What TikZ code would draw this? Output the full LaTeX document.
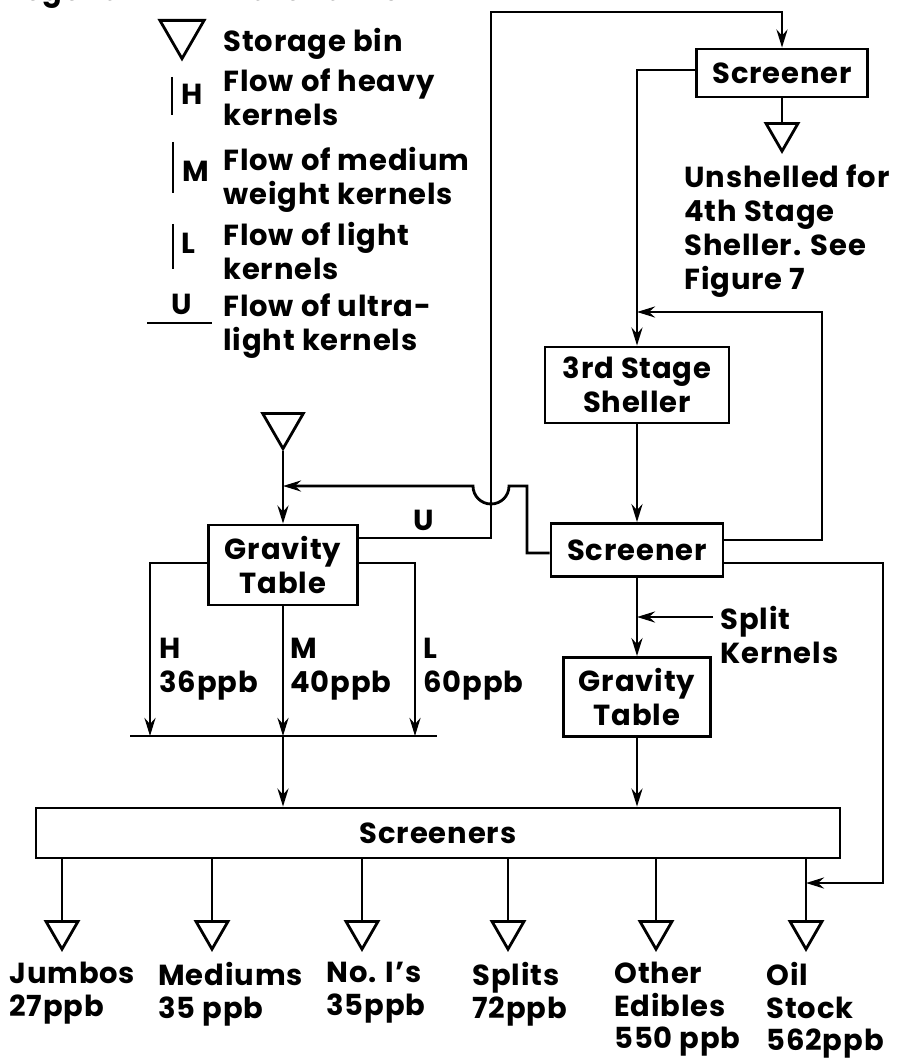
\documentclass[tikz,border=0pt]{standalone}
\usepackage{fontspec}
\setmainfont{Poppins}[LetterSpace=3]
\usetikzlibrary{arrows.meta,shapes.geometric}
\begin{document}
\begin{tikzpicture}[x=1pt, y=-1pt, line width=2.8pt,
    >={Stealth[length=18pt,width=11pt,inset=6pt]},
    font=\fontsize{29}{34}\selectfont\bfseries,
    box/.style={draw, inner sep=0pt, align=center},
    bin/.style={draw, regular polygon, regular polygon sides=3, shape border rotate=180, inner sep=0pt, minimum size=#1, anchor=north},
    txt/.style={anchor=north west, inner sep=0pt, align=left}]
    \useasboundingbox (0,0) rectangle (902,1059);

    % legend
    \node[anchor=base west, inner sep=0pt] (legend) at (8,1) {Legend};
    \node[anchor=base west, inner sep=0pt] (matflow) at (222,1) {Material flow};
    \node[bin=51] (keybin) at (182,19) {};
    \node[txt] (keybintxt) at (222,27) {Storage bin};
    \node[txt] (keyh) at (180,83) {H};
    \node[txt] (keyhtxt) at (222,67) {Flow of heavy\\kernels};
    \node[txt] (keym) at (181,160) {M};
    \node[txt] (keymtxt) at (222,146) {Flow of medium\\weight kernels};
    \node[txt] (keyl) at (180,232) {L};
    \node[txt] (keyltxt) at (222,221) {Flow of light\\kernels};
    \node[txt] (keyu) at (170,293) {U};
    \node[txt] (keyutxt) at (222,292) {Flow of ultra-\\light kernels};
    \draw (172,77) -- (172,115);
    \draw (173,142) -- (173,193);
    \draw (173,224) -- (173,269);
    \draw (147,323) -- (212,323);

    % right column
    \node[box, minimum width=171pt, minimum height=48pt] (scr1) at (782,73) {Screener};
    \node[bin=37] (unsh) at (782,122) {};
    \node[txt] (unshtxt) at (683,163) {Unshelled for\\4th Stage\\Sheller. See\\Figure 7};
    \node[box, minimum width=184pt, minimum height=76pt] (shel) at (637,385) {3rd Stage\\Sheller};
    \node[box, minimum width=172pt, minimum height=53pt] (scr2) at (637,550) {Screener};
    \node[txt] (split) at (719,605) {Split\\Kernels};
    \node[box, minimum width=147pt, minimum height=79pt] (grav2) at (637,697) {Gravity\\Table};

    % left column
    \node[bin=47] (feed) at (283,412) {};
    \node[box, minimum width=149pt, minimum height=80pt] (grav1) at (283,565) {Gravity\\Table};
    \node (ulab) at (424,520) {U};
    \node[txt] (hlab) at (158,637) {H\\36ppb};
    \node[txt] (mlab) at (289,637) {M\\40ppb};
    \node[txt] (llab) at (422,637) {L\\60ppb};

    % screeners and bins
    \node[box, minimum width=804pt, minimum height=50pt] (scrs) at (438,833) {Screeners};
    \foreach \x/\n in {62/jum,212/medi,362/nol,508/spl,656/oth,806/oil} {
        \node[bin=37] (\n) at (\x,920) {};
        \draw (\n.north |- scrs.south) -- (\n.north);
    }
    \begin{scope}[font=\fontsize{29}{32.5}\selectfont\bfseries]
    \node[txt] (jumtxt) at (8,961) {Jumbos\\27ppb};
    \node[txt] (meditxt) at (157,961) {Mediums\\35 ppb};
    \node[txt] (noltxt) at (325,961) {No. I’s\\35ppb};
    \node[txt] (spltxt) at (471,961) {Splits\\72ppb};
    \node[txt] (othtxt) at (613,961) {Other\\Edibles\\550 ppb};
    \node[txt] (oiltxt) at (765,961) {Oil\\Stock\\562ppb};
    \end{scope}

    % flows
    \coordinate (recyc) at (637,312);
    \coordinate (splitin) at (637,617);
    \coordinate (oilin) at (806,883);
    \coordinate (feedin) at (283,486);
    \coordinate (hin) at (150,736);
    \coordinate (min) at (283,736);
    \coordinate (lin) at (415,736);
    \draw[->] ([yshift=27pt]grav1.east) -- (491,538) -- (491,12) -| (scr1.north);
    \draw[->] ([yshift=3pt]scr1.west) -| (shel.north);
    \draw (scr1.south) -- (unsh.north);
    \draw[->] ([yshift=10pt]scr2.east) -- (822,540) |- (recyc);
    \draw[->] (shel.south) -- (scr2.north);
    \draw[->] (scr2.south) -- (grav2.north);
    \draw[->] ([xshift=-6pt]split.west |- splitin) -- (splitin);
    \draw[->] ([yshift=-13pt]scr2.east) -- (883,563) |- (oilin);
    \draw[->] ([yshift=-3pt]scr2.west) -- (527,553) -- (527,486) -- (509,486)
        .. controls (509,496) and (501,504) .. (491,504)
        .. controls (481,504) and (473,496) .. (473,486) -- (feedin);
    \draw[->] (feed.south) -- (grav1.north);
    \draw[->] ([yshift=2pt]grav1.west) -| (hin);
    \draw[->] (grav1.south) -- (min);
    \draw[->] ([yshift=2pt]grav1.east) -| (lin);
    \draw (130,736) -- (437,736);
    \draw[->] (min) -- (min |- scrs.north);
    \draw[->] (grav2.south) -- (grav2.south |- scrs.north);
\end{tikzpicture}
\end{document}
